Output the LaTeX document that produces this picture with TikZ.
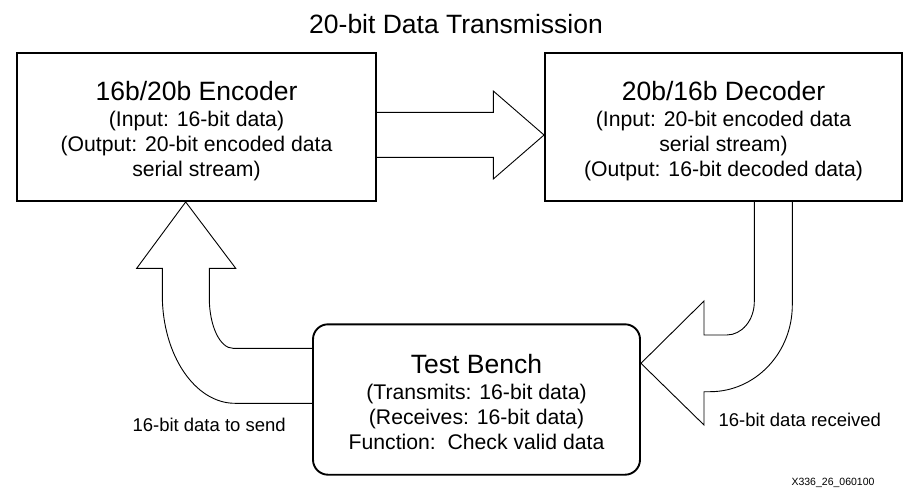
\documentclass[tikz,border=0pt]{standalone}
\usepackage{fontspec}
\setmainfont{Liberation Sans}
\usepackage{tikz}
\usetikzlibrary{calc}

\newcommand{\hdfont}{\fontsize{26.5}{26}\selectfont}
\newcommand{\sbfont}{\fontsize{21.2}{25}\selectfont}
\newcommand{\lblfont}{\fontsize{18.5}{20}\selectfont}
\newcommand{\hdline}[1]{{\hdfont\rule{0pt}{28.5pt}#1}\\[1pt]}
\newcommand{\lastline}[1]{#1\rule[-5pt]{0pt}{5pt}}

\tikzset{
    block/.style={draw, line width=1.9pt, inner sep=0pt, align=center, font=\sbfont},
    blockarrow/.style={draw, line width=0.9pt, line join=miter},
}

\begin{document}
\begin{tikzpicture}[x=1pt,y=-1pt]
            \useasboundingbox (0,0) rectangle (905,496);
            \node (title) at (456,33.3) [anchor=base, font=\hdfont] {20-bit Data Transmission};
            \node (enc) at (196.5,127) [block, minimum width=359pt, minimum height=148pt]
                {\hdline{16b/20b Encoder}(Input: 16-bit data)\\(Output: 20-bit encoded data\\\lastline{serial stream)}};
            \node (dec) at (723.5,127) [block, minimum width=357pt, minimum height=148pt]
                {\hdline{20b/16b Decoder}(Input: 20-bit encoded data\\serial stream)\\\lastline{(Output: 16-bit decoded data)}};
            \node (tb) at (476.5,399.5) [block, rounded corners=15pt, minimum width=327pt, minimum height=150.4pt]
                {\hdline{Test Bench}(Transmits: 16-bit data)\\(Receives: 16-bit data)\\\lastline{Function:\ \ Check valid data}};
            % encoder to decoder
            \draw [blockarrow] (enc.east |- 0,112.3) -- (493.3,112.3) -- (493.3,91) -- (dec.west |- 0,135)
                -- (493.3,179) -- (493.3,157.3) -- (enc.east |- 0,157.3);
            % test bench back to encoder
            \draw [blockarrow] (tb.west |- 0,348.3) -- (233,348.3) .. controls (219.9,348.3) and (209.3,325.8) .. (209.3,298)
                -- (209.3,268.3) -- (235.7,268.3) -- (185.7,0 |- enc.south) -- (136.7,268.3) -- (162.3,268.3) -- (162.3,295)
                .. controls (162.3,354.8) and (194.9,403.3) .. (235,403.3) -- (tb.west |- 0,403.3);
            % decoder down to test bench
            \draw [blockarrow] (754.3,0 |- dec.south) -- (754.3,301.7) .. controls (754.3,320.1) and (741.9,335) .. (726.7,335)
                -- (704,335) -- (704,301) -- (tb.east |- 0,363.3) -- (704,425) -- (704,391.7) -- (710,391.7)
                .. controls (755.4,391.7) and (792.3,352.9) .. (792.3,305) -- (792.3,0 |- dec.south);
            \node (sendlbl) at (129,431.7) [anchor=base west, font=\lblfont] {16-bit data to send};
            \node (recvlbl) at (715,426.7) [anchor=base west, font=\lblfont] {16-bit data received};
            \node (figid) at (878,485) [anchor=base east, font=\fontsize{10.5}{12}\selectfont] {X336\_26\_060100};
        \end{tikzpicture}
\end{document}
